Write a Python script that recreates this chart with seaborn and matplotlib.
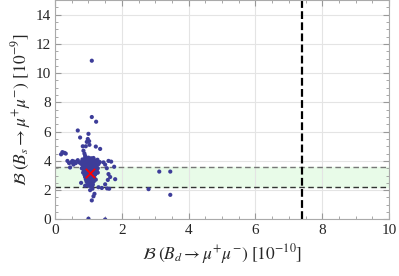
import numpy as np
import pandas as pd
import matplotlib
matplotlib.use('Agg')
import matplotlib.pyplot as plt
from matplotlib.ticker import MultipleLocator
import seaborn as sns

# точки вне плотного ядра (B_d, B_s)
x_out = [1.10, 1.10, 1.23, 0.68, 0.75, 1.00, 0.98, 1.02, 0.95, 1.03, 0.92, 0.83, 1.22, 1.35,
         0.85, 0.88, 0.90, 0.18, 0.22, 0.28, 0.32,
         0.37, 0.42, 0.48, 0.52, 0.58, 0.62, 0.68, 0.45, 0.55, 0.72,
         1.45, 1.50, 1.60, 1.68, 1.55, 1.77, 1.60, 1.65, 1.58, 1.50, 1.80, 1.62, 1.56, 1.40, 1.30,
         2.80, 3.12, 3.45, 3.45,
         1.10, 1.15, 1.18, 1.05, 1.12, 0.78, 0.90, 1.00, 1.50]
y_out = [10.85, 7.00, 6.68, 6.08, 5.60, 5.85, 5.50, 5.35, 5.30, 5.10, 5.00, 5.00, 4.98, 4.82,
         4.70, 4.50, 4.35, 4.45, 4.60, 4.55, 4.50,
         4.00, 3.85, 3.90, 4.00, 3.95, 3.85, 4.05, 3.55, 3.75, 3.90,
         3.90, 3.75, 4.00, 3.95, 3.50, 3.60, 3.10, 2.90, 2.70, 2.40, 2.75, 2.10, 2.12, 2.15, 2.20,
         2.07, 3.27, 3.27, 1.68,
         1.30, 1.58, 1.75, 2.00, 2.10, 2.50, 2.30, 0.05, 0.00]

# плотное ядро около (1.0, 3.3)
x_core = [0.90, 1.00, 1.08, 1.15,
          0.82, 0.88, 0.95, 1.03, 1.10, 1.18, 1.27,
          0.80, 0.85, 0.92, 0.98, 1.05, 1.12, 1.20, 1.25, 1.34,
          0.78, 0.83, 0.90, 0.96, 1.02, 1.08, 1.15, 1.22, 1.30,
          0.84, 0.87, 0.93, 0.99, 1.05, 1.11, 1.17, 1.24,
          0.80, 0.85, 0.91, 0.97, 1.03, 1.09, 1.15, 1.21, 1.28,
          0.86, 0.88, 0.94, 1.00, 1.06, 1.12, 1.18, 1.25,
          0.84, 0.89, 0.92, 0.98, 1.04, 1.10, 1.16, 1.22, 1.28,
          0.88, 0.90, 0.96, 1.02, 1.08, 1.14, 1.20,
          0.90, 0.93, 0.99, 1.05, 1.11, 1.17,
          0.92, 0.95, 1.01, 1.07, 1.13, 1.22,
          0.94, 0.98, 1.04, 1.10, 1.16,
          0.97, 1.02, 1.08, 1.13,
          1.00, 1.06, 1.12,
          0.97, 1.03, 0.95, 1.07, 1.01, 0.94, 1.09, 1.00, 1.06, 0.93]
y_core = [4.20, 4.22, 4.18, 4.20,
          4.10, 4.05, 4.12, 4.08, 4.10, 4.05, 4.08,
          3.95, 3.90, 3.98, 3.92, 3.95, 3.90, 3.96, 3.88, 3.92,
          3.80, 3.78, 3.82, 3.75, 3.80, 3.77, 3.82, 3.75, 3.78,
          3.65, 3.62, 3.68, 3.60, 3.66, 3.63, 3.67, 3.60,
          3.50, 3.48, 3.52, 3.45, 3.50, 3.47, 3.52, 3.45, 3.50,
          3.35, 3.32, 3.38, 3.30, 3.36, 3.33, 3.37, 3.30,
          3.20, 3.18, 3.22, 3.15, 3.20, 3.17, 3.22, 3.15, 3.20,
          3.05, 3.02, 3.08, 3.00, 3.06, 3.03, 3.07,
          2.90, 2.88, 2.92, 2.85, 2.90, 2.87,
          2.75, 2.72, 2.78, 2.70, 2.75, 2.72,
          2.60, 2.57, 2.62, 2.55, 2.60,
          2.45, 2.42, 2.47, 2.40,
          2.30, 2.28, 2.32,
          3.40, 3.25, 3.28, 3.42, 3.55, 3.60, 3.58, 3.85, 4.00, 3.90]

# стандартная модель и экспериментальные ограничения
sm_point = (1.05, 3.15)
bs_band = (2.2, 3.6)
bd_limit = 7.4

df = pd.DataFrame({'Bd': x_out + x_core, 'Bs': y_out + y_core})

sns.set_style('ticks')
plt.rcParams['font.family'] = ['Liberation Serif', 'DejaVu Serif']
plt.rcParams['mathtext.fontset'] = 'stix'

fig = plt.figure(figsize=(3.99, 2.76), dpi=100)
ax = fig.add_axes([0.138, 0.205, 0.837, 0.795])

ax.axhspan(bs_band[0], bs_band[1], color='#e8fbe8', zorder=0)
ax.axhline(bs_band[1], color='#777777', ls=(0, (4, 2.5)), lw=1.0, zorder=1)
ax.axhline(bs_band[0], color='#333333', ls=(0, (4, 2.5)), lw=1.0, zorder=1)
ax.axvline(bd_limit, color='black', ls=(0, (3.5, 1.5)), lw=1.6, zorder=1)

sns.scatterplot(data=df, x='Bd', y='Bs', ax=ax, color='#3d3d99', s=9,
                edgecolor='none', zorder=3)
ax.scatter([sm_point[0]], [sm_point[1]], marker='x', color='red', s=45,
           linewidths=1.3, zorder=4)

ax.set_xlim(0, 10)
ax.set_ylim(0, 15)
ax.xaxis.set_major_locator(MultipleLocator(2))
ax.xaxis.set_minor_locator(MultipleLocator(0.5))
ax.yaxis.set_major_locator(MultipleLocator(2))
ax.yaxis.set_minor_locator(MultipleLocator(0.5))
ax.grid(True, which='major', color='#e4e4e4', lw=0.8, zorder=0)
ax.set_axisbelow(True)
ax.tick_params(which='both', direction='in', top=True, right=True, color='#999999')
ax.tick_params(which='major', length=4, labelsize=11, pad=3)
ax.tick_params(which='minor', length=2)
for sp in ax.spines.values():
    sp.set_color('#aaaaaa')

ax.set_xlabel(r'$\mathcal{B}\;(B_d \to \mu^{+}\mu^{-})\ [10^{-10}]$', fontsize=12.5, labelpad=4)
ax.set_ylabel(r'$\mathcal{B}\;(B_s \to \mu^{+}\mu^{-})\ [10^{-9}]$', fontsize=12.5, labelpad=2)

plt.savefig('out.png', dpi=100)
